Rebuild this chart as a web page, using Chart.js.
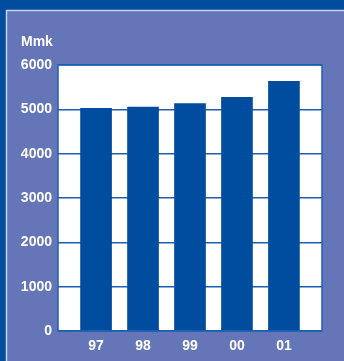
<!DOCTYPE html>
<html>
<head>
<meta charset="utf-8">
<script src="https://cdn.jsdelivr.net/npm/chart.js@4/dist/chart.umd.min.js"></script>
<style>
  html, body { margin: 0; padding: 0; background: #004c9e; }
  #wrap { width: 344px; height: 361px; }
</style>
</head>
<body>
<div id="wrap"><canvas id="chart" width="344" height="361"></canvas></div>
<script>
// Yearly totals, million markka
const years = ['97', '98', '99', '00', '01'];
const totals = [5020, 5050, 5130, 5270, 5630];
const yTicks = [0, 1000, 2000, 3000, 4000, 5000, 6000];
const unitLabel = 'Mmk';

const panelBlue = '#6476b8';
const darkBlue = '#004c9e';
const lineBlue = '#1f5fb2';
const labelFont = { family: 'Liberation Sans, Arial, sans-serif', size: 14, weight: 'bold' };

// Panel, white plot area and unit label
const backdrop = {
  id: 'backdrop',
  beforeDraw(chart) {
    const { ctx, chartArea: a } = chart;
    ctx.save();
    ctx.fillStyle = darkBlue;
    ctx.fillRect(0, 0, chart.width, chart.height);
    ctx.fillStyle = panelBlue;
    ctx.fillRect(6, 10, chart.width - 6, chart.height - 10);
    ctx.strokeStyle = '#c9d2ec';
    ctx.lineWidth = 1.5;
    ctx.beginPath();
    ctx.moveTo(6.5, chart.height);
    ctx.lineTo(6.5, 10.5);
    ctx.lineTo(chart.width, 10.5);
    ctx.stroke();
    ctx.fillStyle = '#ffffff';
    ctx.fillRect(a.left, a.top, a.right - a.left, a.bottom - a.top);
    ctx.font = 'bold 14px Liberation Sans, Arial, sans-serif';
    ctx.textBaseline = 'middle';
    ctx.fillText(unitLabel, 21, 42);
    ctx.restore();
  },
  afterDatasetsDraw(chart) {
    const { ctx, chartArea: a } = chart;
    ctx.save();
    ctx.strokeStyle = lineBlue;
    ctx.lineWidth = 1.5;
    ctx.strokeRect(a.left, a.top, a.right - a.left, a.bottom - a.top);
    ctx.restore();
  }
};

new Chart(document.getElementById('chart'), {
  type: 'bar',
  data: {
    datasets: [{
      data: totals.map((v, i) => ({ x: i, y: v })),
      backgroundColor: darkBlue,
      borderWidth: 0,
      barThickness: 31
    }]
  },
  options: {
    responsive: false,
    animation: false,
    layout: { padding: { left: 0, top: 65, right: 22, bottom: 0 } },
    plugins: { legend: { display: false }, tooltip: { enabled: false } },
    scales: {
      x: {
        type: 'linear',
        offset: false,
        min: -0.81,
        max: 4.81,
        afterFit(scale) { scale.height = 30; },
        afterBuildTicks(scale) { scale.ticks = years.map((_, i) => ({ value: i })); },
        grid: { display: false, drawTicks: false },
        border: { display: false },
        ticks: {
          color: '#ffffff',
          font: labelFont,
          padding: 7,
          maxRotation: 0,
          callback: (v) => years[v]
        }
      },
      y: {
        min: 0,
        max: 6000,
        afterFit(scale) { scale.width = 58; },
        afterBuildTicks(scale) { scale.ticks = yTicks.map(v => ({ value: v })); },
        grid: { color: lineBlue, lineWidth: 1.5, drawTicks: false },
        border: { display: false },
        ticks: { color: '#ffffff', font: labelFont, padding: 6, callback: (v) => String(v) }
      }
    }
  },
  plugins: [backdrop]
});
</script>
</body>
</html>
